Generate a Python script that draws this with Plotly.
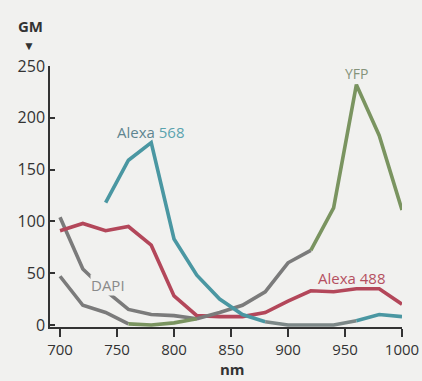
import plotly.graph_objects as go

# ---- data ----
wavelength = [700, 720, 740, 760, 780, 800, 820, 840, 860, 880, 900, 920, 940, 960, 980, 1000]
dapi_nm = [700, 720, 740, 760, 780, 800, 820]
dapi = [104, 54, 33, 15, 10, 9, 6]
yfp = [47, 19, 12, 1, 0, 2, 6, 12, 19, 32, 60, 72, 113, 232, 183, 111]
alexa568_nm = [740, 760, 780, 800, 820, 840, 860, 880, 900, 920, 940, 960, 980, 1000]
alexa568 = [118, 159, 176, 83, 48, 25, 10, 3, 0, 0, 0, 4, 10, 8]
alexa488 = [91, 98, 91, 95, 77, 28, 9, 8, 8, 12, 23, 33, 32, 35, 35, 20]
x_ticks = [700, 750, 800, 850, 900, 950, 1000]
y_ticks = [0, 50, 100, 150, 200, 250]

GRAY = "#7b7b7b"
GREEN = "#7a9460"
TEAL = "#4a97a2"
RED = "#b3475a"
BG = "#f1f1ef"
LW = 3.6

W, H = 422, 381
L, T = 50, 66
R = W - 402
B = H - 327
PW, PH = W - L - R, H - T - B


def px(x):
    return (x - L) / PW


def py(y):
    return (H - B - y) / PH


fig = go.Figure()


def seg(xs, ys, i0, i1, color):
    fig.add_trace(go.Scatter(x=xs[i0:i1 + 1], y=ys[i0:i1 + 1], mode="lines",
                             line=dict(color=color, width=LW), showlegend=False,
                             hoverinfo="skip"))


# DAPI
seg(dapi_nm, dapi, 0, len(dapi) - 1, GRAY)
# Alexa 488
seg(wavelength, alexa488, 0, len(alexa488) - 1, RED)
# YFP (printed colour shifts along the curve)
seg(wavelength, yfp, 0, 3, GRAY)
seg(wavelength, yfp, 3, 6, GREEN)
seg(wavelength, yfp, 6, 11, GRAY)
seg(wavelength, yfp, 11, 15, GREEN)
# Alexa 568
seg(alexa568_nm, alexa568, 0, 7, TEAL)
seg(alexa568_nm, alexa568, 7, 11, "#7d8888")
seg(alexa568_nm, alexa568, 11, 13, TEAL)

FONT = "Open Sans"
ann = [
    dict(x=px(151), y=py(132), text="Alexa <span style='color:#5aa3ae'>568</span>",
         font=dict(color="#5f8590", size=15)),
    dict(x=px(356), y=py(73), text="YFP", font=dict(color="#85937a", size=14)),
    dict(x=px(108), y=py(285), text="DAPI", font=dict(color="#8a8a8a", size=15),
         bgcolor=BG, borderpad=0),
    dict(x=px(352), y=py(278), text="Alexa 488", font=dict(color="#b5505f", size=15)),
    dict(x=px(30), y=py(26), text="<b>GM</b>", font=dict(color="#333333", size=15)),
    dict(x=px(29), y=py(45), text="▼", font=dict(color="#333333", size=12)),
    dict(x=px(232), y=py(369), text="<b>nm</b>", font=dict(color="#333333", size=15)),
]
for a in ann:
    a.update(xref="paper", yref="paper", showarrow=False, xanchor="center", yanchor="middle")
    a["font"]["family"] = FONT

fig.update_layout(
    width=W, height=H,
    margin=dict(l=L, r=R, t=T, b=B, autoexpand=False),
    paper_bgcolor=BG,
    plot_bgcolor=BG,
    font=dict(family=FONT, color="#333333", size=15),
    annotations=ann,
    xaxis=dict(range=[691.2, 1000], tickvals=x_ticks, ticktext=[str(v) for v in x_ticks],
               showgrid=False, zeroline=False, showline=True, linecolor="#333333", linewidth=1.5,
               ticks="outside", ticklen=8, tickwidth=1.5, tickcolor="#333333",
               tickfont=dict(size=15, color="#333333"), ticklabeloverflow="allow",
               automargin=False),
    yaxis=dict(range=[-2, 250], tickvals=y_ticks, ticktext=[str(v) for v in y_ticks],
               showgrid=False, zeroline=False, showline=True, linecolor="#333333", linewidth=1.5,
               ticks="inside", ticklen=5, tickwidth=1.5, tickcolor="#333333",
               tickfont=dict(size=16, color="#333333"), automargin=False),
)

# remove the browser's default page margin so the figure sits at the window's corner
fig.write_html("out.html", config={"displayModeBar": False},
               post_script="document.body.style.margin='0';document.body.style.overflow='hidden';")
